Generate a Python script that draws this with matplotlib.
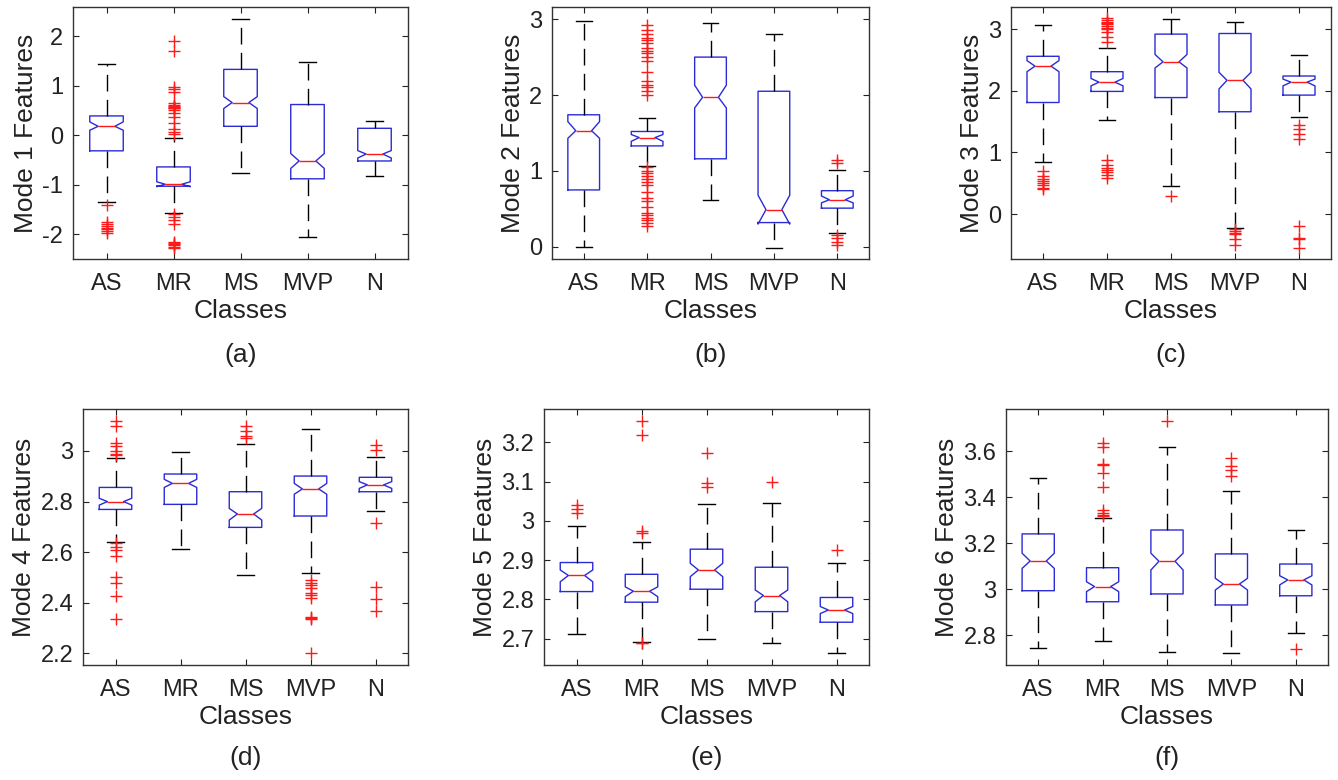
import numpy as np
import matplotlib
matplotlib.use("Agg")
import matplotlib.pyplot as plt
from matplotlib.ticker import FuncFormatter

plt.rcParams['font.family'] = ['Liberation Sans', 'DejaVu Sans']

CLASSES = ["AS", "MR", "MS", "MVP", "N"]
PANELS = ["(a)", "(b)", "(c)", "(d)", "(e)", "(f)"]
YLABELS = ["Mode %d Features" % i for i in range(1, 7)]

# box statistics per panel, one value per class (AS, MR, MS, MVP, N)
Q1 = [[-0.315, -1.03, 0.18, -0.88, -0.52],
      [0.75, 1.33, 1.16, 0.32, 0.51],
      [1.81, 1.99, 1.89, 1.66, 1.93],
      [2.769, 2.789, 2.698, 2.743, 2.839],
      [2.820, 2.793, 2.826, 2.769, 2.742],
      [2.994, 2.946, 2.980, 2.932, 2.972]]
MED = [[0.18, -0.99, 0.66, -0.52, -0.38],
       [1.53, 1.44, 1.97, 0.49, 0.62],
       [2.40, 2.14, 2.47, 2.17, 2.14],
       [2.800, 2.872, 2.751, 2.850, 2.866],
       [2.861, 2.821, 2.875, 2.810, 2.773],
       [3.123, 3.012, 3.122, 3.023, 3.041]]
Q3 = [[0.39, -0.64, 1.33, 0.62, 0.14],
      [1.74, 1.52, 2.50, 2.05, 0.74],
      [2.56, 2.31, 2.92, 2.93, 2.24],
      [2.856, 2.909, 2.839, 2.901, 2.896],
      [2.894, 2.864, 2.928, 2.882, 2.805],
      [3.241, 3.094, 3.258, 3.154, 3.110]]
CILO = [[0.10, -1.04, 0.54, -0.67, -0.46],
        [1.43, 1.39, 1.83, 0.30, 0.58],
        [2.31, 2.08, 2.37, 2.03, 2.08],
        [2.786, 2.856, 2.727, 2.829, 2.852],
        [2.845, 2.807, 2.858, 2.794, 2.764],
        [3.091, 2.990, 3.084, 2.997, 3.019]]
CIHI = [[0.27, -0.94, 0.78, -0.37, -0.31],
        [1.65, 1.48, 2.13, 0.68, 0.67],
        [2.49, 2.20, 2.59, 2.30, 2.19],
        [2.813, 2.888, 2.773, 2.872, 2.879],
        [2.875, 2.832, 2.892, 2.824, 2.782],
        [3.157, 3.033, 3.157, 3.048, 3.059]]
WLO = [[-1.35, -1.58, -0.77, -2.06, -0.83],
       [0.00, 1.07, 0.62, -0.01, 0.18],
       [0.85, 1.53, 0.45, -0.23, 1.58],
       [2.641, 2.611, 2.510, 2.516, 2.764],
       [2.713, 2.692, 2.698, 2.690, 2.663],
       [2.746, 2.777, 2.726, 2.722, 2.812]]
WHI = [[1.43, -0.05, 2.34, 1.48, 0.28],
       [2.98, 1.70, 2.95, 2.81, 1.01],
       [3.07, 2.70, 3.16, 3.11, 2.58],
       [2.974, 2.997, 3.028, 3.088, 2.975],
       [2.988, 2.947, 3.042, 3.045, 2.894],
       [3.483, 3.309, 3.617, 3.428, 3.258]]
FLIERS = [
    [[-1.40, -1.75, -1.80, -1.84, -1.87, -1.90, -1.93, -1.97],
     [1.91, 1.71, 0.97, 0.93, 0.88, 0.65, 0.62, 0.60, 0.58, 0.56, 0.54, 0.50,
      0.44, 0.36, 0.25, 0.12, 0.06, 0.02, -1.60, -1.65, -1.72, -1.80,
      -2.15, -2.18, -2.20, -2.22, -2.25, -2.28],
     [], [], []],
    [[],
     [2.92, 2.86, 2.80, 2.75, 2.72, 2.68, 2.62, 2.58, 2.55, 2.50, 2.45, 2.30,
      2.18, 2.13, 2.10, 2.05, 2.00, 1.05, 1.00, 0.97, 0.93, 0.90, 0.85, 0.82,
      0.72, 0.65, 0.60, 0.52, 0.45, 0.42, 0.38, 0.35, 0.32, 0.28],
     [], [],
     [1.10, 1.14, 0.16, 0.12, 0.07, 0.02]],
    [[0.70, 0.62, 0.57, 0.54, 0.50, 0.47, 0.43, 0.40],
     [2.80, 2.88, 2.95, 3.00, 3.02, 3.05, 3.08, 3.10, 3.12, 3.15, 3.18,
      0.88, 0.80, 0.75, 0.72, 0.68, 0.63, 0.58],
     [0.29],
     [-0.25, -0.28, -0.30, -0.33, -0.40, -0.50],
     [1.45, 1.38, 1.30, 1.22, -0.19, -0.39, -0.41, -0.55]],
    [[3.12, 3.10, 3.03, 3.02, 3.00, 2.99, 2.985, 2.635, 2.62, 2.61, 2.585,
      2.50, 2.477, 2.428, 2.336],
     [],
     [3.10, 3.08, 3.06, 3.05],
     [2.49, 2.48, 2.47, 2.46, 2.44, 2.43, 2.42, 2.345, 2.34, 2.335, 2.20],
     [3.025, 3.005, 2.714, 2.464, 2.414, 2.367]],
    [[3.04, 3.03, 3.02],
     [3.254, 3.22, 2.975, 2.97, 2.688, 2.69],
     [3.172, 3.096, 3.087],
     [3.10],
     [2.926]],
    [[],
     [3.635, 3.62, 3.545, 3.54, 3.504, 3.446, 3.345, 3.33, 3.325, 3.32],
     [3.733],
     [3.572, 3.536, 3.519, 3.493],
     [2.739]],
]
YLIMS = [(-2.5, 2.59), (-0.16, 3.16), (-0.73, 3.36),
         (2.154, 3.166), (2.633, 3.285), (2.671, 3.784)]
YTICKS = [[-2, -1, 0, 1, 2], [0, 1, 2, 3], [0, 1, 2, 3],
          [2.2, 2.4, 2.6, 2.8, 3.0], [2.7, 2.8, 2.9, 3.0, 3.1, 3.2],
          [2.8, 3.0, 3.2, 3.4, 3.6]]

# axes boxes in pixels: left, top, right, bottom
W, H = 1338, 780
BOXES = [(73, 7, 408, 259), (552, 7, 869, 259), (1011, 7, 1331, 259),
         (83, 409, 408, 665), (544, 409, 869, 665), (1006, 409, 1328, 665)]

BLUE = "#2b2bd6"
RED = "#ff1a1a"

fig = plt.figure(figsize=(W / 100, H / 100), dpi=100)

for p in range(6):
    l, t, r, b = BOXES[p]
    ax = fig.add_axes([l / W, 1 - b / H, (r - l) / W, (b - t) / H])
    stats = []
    for k, name in enumerate(CLASSES):
        stats.append(dict(label=name, med=MED[p][k], q1=Q1[p][k], q3=Q3[p][k],
                          whislo=WLO[p][k], whishi=WHI[p][k],
                          cilo=CILO[p][k], cihi=CIHI[p][k],
                          fliers=np.array(FLIERS[p][k])))
    ax.bxp(stats, positions=range(1, 6), widths=0.5, shownotches=True,
           boxprops=dict(color=BLUE, lw=1.0),
           medianprops=dict(color=RED, lw=1.0),
           whiskerprops=dict(color="black", lw=1.0, linestyle=(0, (12, 6))),
           capprops=dict(color="black", lw=1.0),
           flierprops=dict(marker="+", markerfacecolor="none", markeredgecolor=RED,
                           markersize=9, markeredgewidth=1.0, linestyle="none"))
    ax.set_xlim(0.5, 5.5)
    ax.set_ylim(*YLIMS[p])
    ax.set_yticks(YTICKS[p])
    ax.yaxis.set_major_formatter(FuncFormatter(lambda v, pos: "%g" % round(v, 4)))
    ax.set_xticks(range(1, 6))
    ax.set_xticklabels(CLASSES)
    ax.tick_params(direction="in", top=True, right=True, length=4, width=0.8,
                   labelsize=17, colors="#222222")
    ax.tick_params(axis="x", pad=10)
    ax.tick_params(axis="y", pad=7)
    for s in ax.spines.values():
        s.set_color("#333333")
        s.set_linewidth(1.0)
    ax.set_xlabel("Classes", fontsize=19, labelpad=3, color="#222222")
    ax.set_ylabel(YLABELS[p], fontsize=19, labelpad=3, color="#222222")
    cy = 355 if p < 3 else 758
    fig.text((l + r) / 2 / W, 1 - cy / H, PANELS[p], fontsize=19,
             ha="center", va="center", color="#222222")

fig.savefig("out.png", dpi=100, facecolor="white")
